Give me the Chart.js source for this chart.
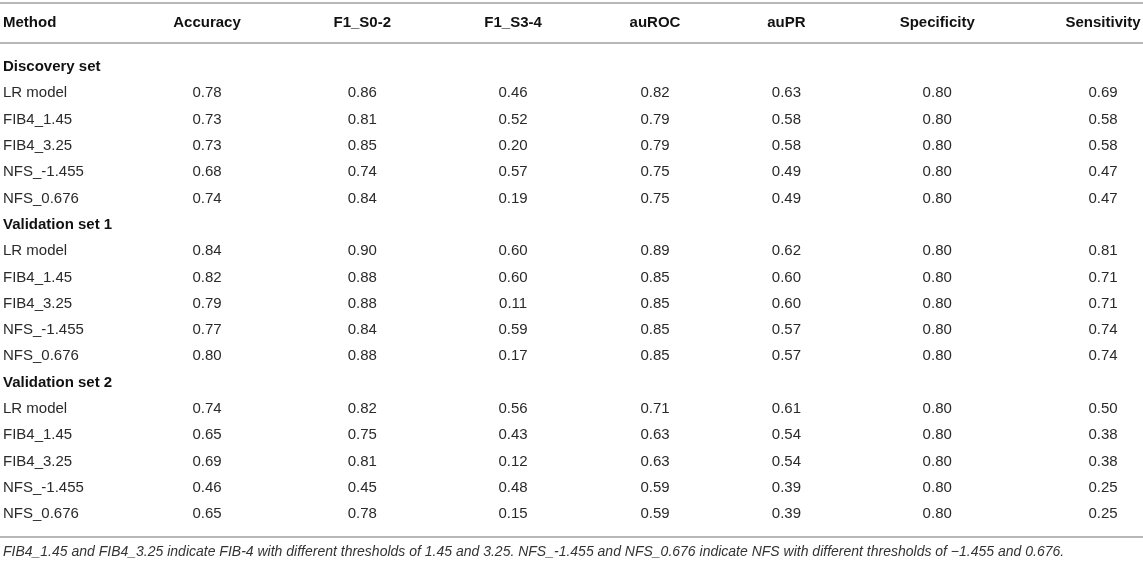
<!DOCTYPE html>
<html>
<head>
<meta charset="utf-8">
<script src="https://cdn.jsdelivr.net/npm/chart.js@4/dist/chart.umd.min.js"></script>
<style>
  html, body { margin: 0; padding: 0; background: #fff; }
  #tbl { display: block; }
</style>
</head>
<body>
<canvas id="tbl" width="1143" height="563"></canvas>
<script>
// table content
var columns = ['Method', 'Accuracy', 'F1_S0-2', 'F1_S3-4', 'auROC', 'auPR', 'Specificity', 'Sensitivity'];
var groups = ['Discovery set', 'Validation set 1', 'Validation set 2'];
var methods = ['LR model', 'FIB4_1.45', 'FIB4_3.25', 'NFS_-1.455', 'NFS_0.676'];

// one value per method row, groups in order
var accuracy    = [0.78, 0.73, 0.73, 0.68, 0.74,  0.84, 0.82, 0.79, 0.77, 0.80,  0.74, 0.65, 0.69, 0.46, 0.65];
var f1S02       = [0.86, 0.81, 0.85, 0.74, 0.84,  0.90, 0.88, 0.88, 0.84, 0.88,  0.82, 0.75, 0.81, 0.45, 0.78];
var f1S34       = [0.46, 0.52, 0.20, 0.57, 0.19,  0.60, 0.60, 0.11, 0.59, 0.17,  0.56, 0.43, 0.12, 0.48, 0.15];
var auROC       = [0.82, 0.79, 0.79, 0.75, 0.75,  0.89, 0.85, 0.85, 0.85, 0.85,  0.71, 0.63, 0.63, 0.59, 0.59];
var auPR        = [0.63, 0.58, 0.58, 0.49, 0.49,  0.62, 0.60, 0.60, 0.57, 0.57,  0.61, 0.54, 0.54, 0.39, 0.39];
var specificity = [0.80, 0.80, 0.80, 0.80, 0.80,  0.80, 0.80, 0.80, 0.80, 0.80,  0.80, 0.80, 0.80, 0.80, 0.80];
var sensitivity = [0.69, 0.58, 0.58, 0.47, 0.47,  0.81, 0.71, 0.71, 0.74, 0.74,  0.50, 0.38, 0.38, 0.25, 0.25];

var footnote = 'FIB4_1.45 and FIB4_3.25 indicate FIB-4 with different thresholds of 1.45 and 3.25. ' +
               'NFS_-1.455 and NFS_0.676 indicate NFS with different thresholds of \u22121.455 and 0.676.';

var metrics = [accuracy, f1S02, f1S34, auROC, auPR, specificity, sensitivity];

// layout in scale units (row index down, column slot across)
var HEADER_ROW = -1.67;
var FOOT_ROW = 18.44;
var RULES = [-2.43, -0.91, 17.87];
var METHOD_X = -0.366;
var COL_POS = [METHOD_X, 1, 2.04, 3.05, 4.0, 4.88, 5.89, 7.0];
var FONT = '"Liberation Sans", Arial, Helvetica, sans-serif';

var cells = [];
columns.forEach(function(c, j) {
  cells.push({ x: COL_POS[j], y: HEADER_ROW, text: c, kind: 'head' });
});
var row = 0;
groups.forEach(function(g, gi) {
  cells.push({ x: METHOD_X, y: row, text: g, kind: 'group' });
  row++;
  methods.forEach(function(m, mi) {
    var k = gi * methods.length + mi;
    cells.push({ x: METHOD_X, y: row, text: m, kind: 'cell' });
    metrics.forEach(function(arr, j) {
      cells.push({ x: COL_POS[j + 1], y: row, text: arr[k].toFixed(2), kind: 'cell' });
    });
    row++;
  });
});
cells.push({ x: METHOD_X, y: FOOT_ROW, text: footnote, kind: 'foot' });

var cellText = {
  id: 'cellText',
  afterDatasetsDraw: function(chart) {
    var ctx = chart.ctx;
    var meta = chart.getDatasetMeta(0);
    ctx.save();
    ctx.textBaseline = 'middle';
    meta.data.forEach(function(pt, i) {
      var c = cells[i];
      var left = c.x === METHOD_X;
      ctx.textAlign = left ? 'left' : 'center';
      if (c.kind === 'head' || c.kind === 'group') {
        ctx.font = 'bold 15px ' + FONT;
        ctx.fillStyle = '#111';
      } else if (c.kind === 'foot') {
        ctx.font = 'italic 14px ' + FONT;
        ctx.fillStyle = '#333';
      } else {
        ctx.font = '15px ' + FONT;
        ctx.fillStyle = '#2a2a2a';
      }
      ctx.fillText(c.text, pt.x, pt.y);
    });
    ctx.restore();
  }
};

var ctx = document.getElementById('tbl');
var tableChart = new Chart(ctx, {
  type: 'scatter',
  data: {
    datasets: [{
      data: cells,
      pointRadius: 0,
      pointHoverRadius: 0
    }]
  },
  options: {
    responsive: false,
    animation: false,
    devicePixelRatio: 1,
    layout: { padding: 0 },
    plugins: {
      legend: { display: false },
      tooltip: { enabled: false }
    },
    events: [],
    scales: {
      x: {
        type: 'linear',
        min: -0.386,
        max: 7.268,
        display: false
      },
      y: {
        type: 'linear',
        reverse: true,
        min: -2.548,
        max: 18.86,
        afterBuildTicks: function(axis) {
          axis.ticks = RULES.map(function(v) { return { value: v }; });
        },
        ticks: { display: false },
        border: { display: false },
        grid: {
          color: '#b8b8b8',
          lineWidth: 2,
          drawTicks: false
        }
      }
    }
  },
  plugins: [cellText]
});
</script>
</body>
</html>
